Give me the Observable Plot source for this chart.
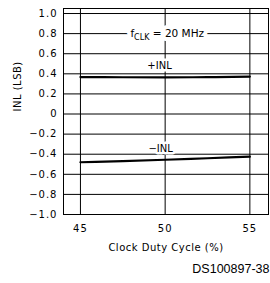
<!DOCTYPE html>
<html><head><meta charset="utf-8">
<script src="https://cdn.jsdelivr.net/npm/d3@7"></script>
<script src="https://cdn.jsdelivr.net/npm/@observablehq/plot@0.6"></script>
<style>
html,body{margin:0;padding:0;background:#fff;}
#chart svg{display:block;}
</style></head><body><div id="chart"></div>
<script>
const duty = [45, 47.5, 50, 52.5, 55];
const inlPos = [0.368, 0.366, 0.365, 0.367, 0.372];
const inlNeg = [-0.48, -0.468, -0.455, -0.44, -0.425];
const xTicks = [45, 50, 55];
const yTicks = [-1.0, -0.8, -0.6, -0.4, -0.2, 0, 0.2, 0.4, 0.6, 0.8, 1.0];
const xLabel = "Clock Duty Cycle (%)";
const yLabel = "INL (LSB)";
const figId = "DS100897-38";
const condLabel = {x: 47.95, y: 0.8, text: "fCLK = 20 MHz"};
const seriesLabels = [
  {x: 49.67, y: 0.483, text: "+INL"},
  {x: 49.73, y: -0.343, text: "\u2212INL"}
];

const posData = duty.map((d, i) => ({x: d, y: inlPos[i]}));
const negData = duty.map((d, i) => ({x: d, y: inlNeg[i]}));
const fmt = d => d === 0 ? "0" : (d < 0 ? "\u2212" : "") + Math.abs(d).toFixed(1);

const chart = Plot.plot({
  width: 270, height: 283,
  marginLeft: 63, marginRight: 2, marginTop: 8, marginBottom: 69,
  style: {fontFamily: "DejaVu Sans", fontSize: "10px", color: "#000", background: "#fff"},
  x: {domain: [44, 56.1], ticks: xTicks},
  y: {domain: [-1.0, 1.05], ticks: yTicks},
  marks: [
    Plot.gridY(yTicks, {stroke: "#000", strokeOpacity: 1, strokeWidth: 1}),
    Plot.gridX(xTicks, {stroke: "#000", strokeOpacity: 1, strokeWidth: 1}),
    Plot.frame({stroke: "#000", strokeWidth: 1}),
    Plot.line(posData, {x: "x", y: "y", stroke: "#000", strokeWidth: 2.2, curve: "monotone-x"}),
    Plot.line(negData, {x: "x", y: "y", stroke: "#000", strokeWidth: 2.2, curve: "monotone-x"}),
    Plot.text([condLabel], {x: "x", y: "y", text: "text", textAnchor: "start", fill: "#fff", stroke: "#fff", strokeWidth: 8, fontSize: 10.5}),
    Plot.text([condLabel], {x: "x", y: "y", text: "text", textAnchor: "start", fill: "#000", fontSize: 10.5}),
    Plot.text(seriesLabels, {x: "x", y: "y", text: "text", fill: "#000", stroke: "#fff", strokeWidth: 5, fontSize: 10}),
    Plot.axisY(yTicks, {tickSize: 0, tickPadding: 6, tickFormat: fmt, label: null, fontSize: 10}),
    Plot.axisX(xTicks, {tickSize: 0, tickPadding: 10, label: null, fontSize: 10}),
    Plot.text([xLabel], {frameAnchor: "bottom", dy: 36, fontSize: 10}),
    Plot.text([yLabel], {frameAnchor: "left", dx: -46, rotate: -90, fontSize: 10}),
    Plot.text([figId], {frameAnchor: "bottom-right", textAnchor: "end", dy: 58, dx: 1, fontSize: 12.5, fontFamily: "Liberation Sans"})
  ]
});
document.getElementById("chart").appendChild(chart);

d3.select(chart).selectAll("g[aria-label='y-axis tick label'] text, g[aria-label='x-axis tick label'] text").style("letter-spacing", "1px");
d3.select(chart).selectAll("text").filter(function(){return this.textContent === xLabel || this.textContent === yLabel;}).style("letter-spacing", "0.5px");

d3.select(chart).selectAll("text").filter(function(){return this.textContent === condLabel.text;}).each(function(){
  const t = d3.select(this);
  t.text(null);
  t.append("tspan").text("f");
  t.append("tspan").attr("dy", "3").style("font-size", "8px").text("CLK");
  t.append("tspan").attr("dy", "-3").text(" = 20 MHz");
});
</script></body></html>
